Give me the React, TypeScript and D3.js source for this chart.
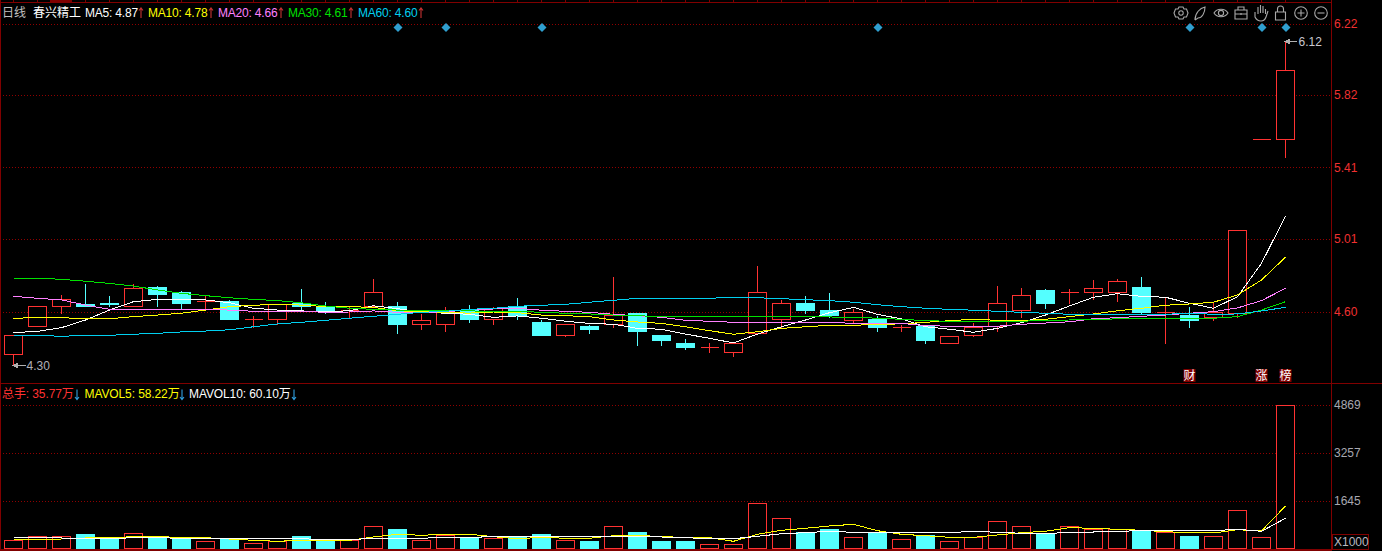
import React from 'react';
import * as d3 from 'd3';

// daily candles
const opens = [4.36, 4.52, 4.63, 4.64, 4.65, 4.63, 4.74, 4.71, 4.66, 4.66, 4.56, 4.56, 4.65, 4.63, 4.61, 4.63, 4.63, 4.53, 4.53, 4.61, 4.56, 4.63, 4.54, 4.47, 4.52, 4.53, 4.59, 4.47, 4.42, 4.40, 4.37, 4.48, 4.56, 4.65, 4.61, 4.55, 4.56, 4.51, 4.52, 4.42, 4.47, 4.52, 4.61, 4.72, 4.71, 4.71, 4.71, 4.74, 4.60, 4.58, 4.57, 4.59, 5.57, 5.57];
const closes = [4.47, 4.63, 4.67, 4.63, 4.64, 4.73, 4.70, 4.65, 4.66, 4.56, 4.56, 4.64, 4.63, 4.61, 4.61, 4.71, 4.53, 4.55, 4.61, 4.56, 4.62, 4.58, 4.47, 4.53, 4.50, 4.58, 4.49, 4.44, 4.40, 4.40, 4.42, 4.71, 4.65, 4.61, 4.58, 4.60, 4.51, 4.51, 4.44, 4.46, 4.51, 4.65, 4.69, 4.65, 4.71, 4.73, 4.77, 4.60, 4.60, 4.55, 4.60, 5.06, 5.57, 5.96];
const highs = [4.47, 4.63, 4.70, 4.76, 4.69, 4.76, 4.75, 4.72, 4.70, 4.67, 4.58, 4.64, 4.73, 4.66, 4.63, 4.79, 4.66, 4.59, 4.63, 4.64, 4.63, 4.68, 4.56, 4.53, 4.53, 4.80, 4.60, 4.47, 4.45, 4.43, 4.42, 4.86, 4.67, 4.69, 4.71, 4.62, 4.58, 4.53, 4.53, 4.46, 4.54, 4.75, 4.74, 4.73, 4.73, 4.78, 4.79, 4.80, 4.68, 4.63, 4.66, 5.06, 5.57, 6.12];
const lows = [4.30, 4.52, 4.59, 4.63, 4.63, 4.63, 4.63, 4.62, 4.61, 4.56, 4.51, 4.53, 4.61, 4.59, 4.57, 4.63, 4.48, 4.50, 4.49, 4.54, 4.53, 4.56, 4.47, 4.46, 4.48, 4.51, 4.41, 4.41, 4.39, 4.37, 4.35, 4.48, 4.51, 4.59, 4.57, 4.54, 4.49, 4.49, 4.42, 4.42, 4.46, 4.49, 4.57, 4.62, 4.65, 4.67, 4.66, 4.59, 4.42, 4.51, 4.55, 4.57, 5.57, 5.47];
const dayCount = opens.length;

const ma5 = [4.484, 4.491, 4.512, 4.555, 4.611, 4.658, 4.671, 4.671, 4.668, 4.652, 4.621, 4.611, 4.606, 4.602, 4.607, 4.635, 4.619, 4.600, 4.593, 4.587, 4.570, 4.578, 4.565, 4.548, 4.536, 4.531, 4.508, 4.503, 4.476, 4.452, 4.426, 4.476, 4.517, 4.555, 4.596, 4.626, 4.587, 4.561, 4.517, 4.503, 4.486, 4.508, 4.540, 4.583, 4.634, 4.683, 4.703, 4.688, 4.683, 4.649, 4.621, 4.686, 4.874, 5.140];
const ma10 = [4.565, 4.568, 4.568, 4.562, 4.562, 4.574, 4.583, 4.593, 4.611, 4.630, 4.638, 4.643, 4.639, 4.630, 4.630, 4.626, 4.607, 4.602, 4.596, 4.594, 4.600, 4.596, 4.583, 4.579, 4.574, 4.555, 4.544, 4.536, 4.517, 4.495, 4.475, 4.489, 4.508, 4.517, 4.525, 4.525, 4.531, 4.533, 4.542, 4.551, 4.559, 4.553, 4.551, 4.559, 4.574, 4.589, 4.607, 4.621, 4.638, 4.645, 4.655, 4.696, 4.780, 4.908];
const ma20 = [4.688, 4.677, 4.668, 4.639, 4.615, 4.615, 4.615, 4.615, 4.613, 4.611, 4.604, 4.604, 4.604, 4.598, 4.600, 4.606, 4.598, 4.596, 4.602, 4.611, 4.617, 4.621, 4.610, 4.604, 4.598, 4.587, 4.579, 4.570, 4.553, 4.548, 4.542, 4.542, 4.542, 4.542, 4.542, 4.536, 4.536, 4.536, 4.523, 4.520, 4.517, 4.520, 4.531, 4.538, 4.545, 4.562, 4.568, 4.576, 4.583, 4.593, 4.602, 4.623, 4.664, 4.733];
const ma30 = [4.790, 4.790, 4.784, 4.773, 4.761, 4.746, 4.724, 4.705, 4.692, 4.680, 4.671, 4.664, 4.652, 4.634, 4.621, 4.615, 4.611, 4.607, 4.606, 4.606, 4.604, 4.604, 4.598, 4.593, 4.589, 4.583, 4.579, 4.574, 4.574, 4.576, 4.576, 4.576, 4.576, 4.576, 4.572, 4.570, 4.565, 4.559, 4.551, 4.548, 4.548, 4.548, 4.548, 4.553, 4.555, 4.559, 4.561, 4.565, 4.565, 4.565, 4.565, 4.574, 4.611, 4.658];
const ma60 = [4.469, 4.469, 4.463, 4.469, 4.469, 4.475, 4.480, 4.488, 4.493, 4.500, 4.517, 4.533, 4.542, 4.553, 4.565, 4.576, 4.587, 4.598, 4.604, 4.615, 4.621, 4.632, 4.638, 4.643, 4.655, 4.666, 4.677, 4.677, 4.677, 4.677, 4.683, 4.680, 4.675, 4.669, 4.664, 4.655, 4.641, 4.630, 4.621, 4.615, 4.610, 4.604, 4.598, 4.593, 4.587, 4.587, 4.587, 4.587, 4.587, 4.593, 4.587, 4.589, 4.606, 4.626];

// volume in thousands of lots
const volumes = [326, 460, 460, 537, 336, 561, 470, 336, 292, 336, 225, 292, 470, 336, 326, 796, 705, 326, 494, 379, 393, 437, 537, 326, 269, 796, 571, 302, 269, 191, 191, 1568, 1065, 571, 672, 426, 594, 359, 494, 292, 426, 964, 796, 561, 796, 695, 695, 628, 594, 437, 460, 1333, 426, 4869];
const mavol5 = [359, 359, 369, 403, 413, 447, 447, 426, 413, 369, 326, 292, 326, 326, 326, 437, 527, 494, 527, 527, 447, 379, 426, 393, 393, 480, 494, 447, 426, 413, 292, 527, 662, 729, 806, 863, 648, 527, 480, 426, 426, 504, 581, 628, 749, 729, 695, 662, 615, 581, 571, 682, 638, 1478];
const mavol10 = [426, 426, 403, 379, 379, 413, 413, 393, 393, 393, 379, 379, 379, 346, 346, 393, 393, 393, 426, 426, 447, 447, 447, 447, 460, 460, 460, 437, 413, 379, 379, 460, 547, 581, 628, 594, 594, 594, 594, 581, 628, 594, 561, 561, 581, 604, 628, 648, 648, 648, 648, 695, 628, 1065];

const priceTicks = ['6.22', '5.82', '5.41', '5.01', '4.60'];
const volumeTicks = ['4869', '3257', '1645'];
const diamondDays = [16, 18, 22, 36, 49, 52, 53];
const eventDays = [49, 52, 53];
const eventLabels = ['财', '涨', '榜'];

const maNames = ['MA5', 'MA10', 'MA20', 'MA30', 'MA60'];
const maLabels = ['4.87', '4.78', '4.66', '4.61', '4.60'];
const maSeries = [ma5, ma10, ma20, ma30, ma60];
const maColors = ['#ffffff', '#ffff00', '#ff80ff', '#00e000', '#00d0f0'];
const maLegendX = [85, 148, 218, 288, 358];
const maArrowX = [141, 211, 281, 351, 421];

const RED = '#ff3232';
const CYAN = '#54ffff';
const FRAME = '#800000';
const FONT = '"Liberation Sans", "Noto Sans CJK SC", sans-serif';

const days = d3.range(dayCount);
const x = d3.scaleBand<number>().domain(days).range([1.5, 1297.5]).paddingInner(0.25).paddingOuter(0.125);
const cx = (i: number) => (x(i) as number) + x.bandwidth() / 2;
const priceY = d3.scaleLinear().domain([4.6, 6.22]).range([312, 24]);
const volY = d3.scaleLinear().domain([0, 4869]).range([550, 405]);
const snap = (v: number) => Math.round(v - 0.5) + 0.5;

const priceLine = d3.line<number>().x((_, i) => cx(i)).y(d => priceY(d));
const volLine = d3.line<number>().x((_, i) => cx(i)).y(d => volY(d));
const diamond = d3.symbol().type(d3.symbolSquare).size(41)();

const Grid = ({ y }: { y: number }) => (
  <line x1={3} x2={1331} y1={snap(y)} y2={snap(y)} stroke="#900000" strokeDasharray="1 2" shapeRendering="crispEdges" />
);

const Candle = ({ i }: { i: number }) => {
  const c = cx(i);
  const up = closes[i] >= opens[i];
  const top = snap(priceY(Math.max(opens[i], closes[i])));
  const bottom = snap(priceY(Math.min(opens[i], closes[i])));
  const color = up ? RED : CYAN;
  const left = x(i) as number;
  return (
    <g shapeRendering="crispEdges">
      <line x1={c} x2={c} y1={snap(priceY(highs[i]))} y2={top} stroke={color} />
      <line x1={c} x2={c} y1={bottom} y2={snap(priceY(lows[i]))} stroke={color} />
      {top === bottom ? (
        <line x1={left} x2={left + x.bandwidth()} y1={top} y2={top} stroke={color} />
      ) : (
        <rect x={left} y={top} width={x.bandwidth()} height={bottom - top}
          fill={up ? '#000' : CYAN} stroke={color} />
      )}
    </g>
  );
};

const VolumeBar = ({ i }: { i: number }) => {
  const up = closes[i] >= opens[i];
  const top = snap(volY(volumes[i]));
  const color = up ? RED : CYAN;
  return (
    <rect x={x(i) as number} y={top} width={x.bandwidth()} height={548.5 - top}
      fill={up ? '#000' : CYAN} stroke={color} shapeRendering="crispEdges" />
  );
};

// small trend arrow next to a legend value
const Arrow = ({ x: ax, y, up, color }: { x: number; y: number; up: boolean; color: string }) => (
  <path
    d={up ? `M${ax} ${y + 5}V${y - 5}M${ax - 2} ${y - 2.500}L${ax} ${y - 5}L${ax + 2} ${y - 2.500}`
      : `M${ax} ${y - 5}V${y + 5}M${ax - 2} ${y + 2.500}L${ax} ${y + 5}L${ax + 2} ${y + 2.500}`}
    fill="none" stroke={color} strokeWidth={1.1} />
);

// toolbar glyphs in the top right corner
const Toolbar = () => (
  <g fill="none" stroke="#a8a8a8" strokeWidth={1.1}>
    <g transform="translate(1181,13)">
      <path d="M-2-6h4l1 2 2.500 0 1.500 4-1.500 4h-2.500l-1 2h-4l-1-2h-2.500l-1.500-4 1.500-4h2.500z" />
      <circle r={2.2} />
    </g>
    <path d="M1195 20c0-7 5-12 10-13 0 6-3 11-7 11l-3 2" />
    <g transform="translate(1221,13)">
      <path d="M-7 0c3-5 11-5 14 0-3 5-11 5-14 0z" />
      <circle r={2.6} />
    </g>
    <path d="M1235 10h12v9h-12zM1238 10v-3h6v3M1235 14h12M1241 13v2" />
    <path d="M1255 12v5c1 2 3 4 6 4s4-1 5-4l2-6M1258 14v-7M1260.500 13v-8M1263 13v-7M1265.500 14v-5" />
    <path d="M1275.500 12h10v8h-10zM1277.500 12v-3c0-4 6-4 6 0v3" />
    <g transform="translate(1301,13)">
      <circle r={6.300} />
      <path d="M-3.500 0h7M0-3.500v7" />
    </g>
    <g transform="translate(1321,13)">
      <circle r={6.300} />
      <path d="M-3.500 0h7" />
    </g>
  </g>
);

const App: React.FC = () => {
  const hiDay = highs.indexOf(d3.max(highs) as number);
  const loDay = lows.indexOf(d3.min(lows) as number);
  const hiY = snap(priceY(highs[hiDay]));
  const loY = snap(priceY(lows[loDay]));

  return (
    <svg width={1382} height={551} fontFamily={FONT} fontSize={12}
      style={{ position: 'fixed', left: 0, top: 0, display: 'block', background: '#000' }}>
      <rect width={1382} height={551} fill="#000" />

      {priceTicks.map(t => <Grid key={t} y={priceY(+t)} />)}
      {volumeTicks.map(t => <Grid key={t} y={volY(+t)} />)}

      {days.map(i => <Candle key={i} i={i} />)}
      <g fill="none" strokeWidth={1} shapeRendering="crispEdges">
        {maSeries.map((s, k) => <path key={maNames[k]} d={priceLine(s) as string} stroke={maColors[k]} />)}
      </g>

      {days.map(i => <VolumeBar key={i} i={i} />)}
      <g fill="none" shapeRendering="crispEdges">
        <path d={volLine(mavol5) as string} stroke="#ffff00" />
        <path d={volLine(mavol10) as string} stroke="#ffffff" />
      </g>

      {/* frame */}
      <g stroke={FRAME} shapeRendering="crispEdges">
        <line x1={0.5} x2={0.5} y1={0} y2={551} />
        <line x1={0} x2={1331} y1={2.5} y2={2.5} />
        <line x1={50} x2={72} y1={1} y2={1} strokeWidth={2} />
        {days.map(i => <line key={i} x1={cx(i)} x2={cx(i)} y1={0} y2={2} />)}
        <line x1={1331.5} x2={1331.5} y1={0} y2={551} />
        <line x1={0} x2={1382} y1={383.5} y2={383.5} />
        <line x1={0} x2={1331} y1={550} y2={550} strokeWidth={2} />
      </g>

      {/* price axis */}
      {priceTicks.map(t => (
        <text key={t} x={1334} y={priceY(+t) + 4} fill="#f03030">{t}</text>
      ))}
      {volumeTicks.map(t => (
        <text key={t} x={1334} y={volY(+t) + 4} fill="#a8a8b0">{t}</text>
      ))}
      <rect x={1332.5} y={534.5} width={36} height={15} fill="none" stroke={FRAME} shapeRendering="crispEdges" />
      <text x={1334} y={546} fill="#b8b8c0">X1000</text>

      {/* event markers */}
      {diamondDays.map(d => (
        <path key={d} d={diamond as string} fill="#2f9fd0"
          transform={`translate(${cx(d) + 0.5},27.5) rotate(45)`} />
      ))}
      {eventDays.map((d, k) => (
        <g key={d}>
          <rect x={cx(d) - 6} y={369} width={12} height={13} fill="#800000" />
          <text x={cx(d)} y={380} textAnchor="middle" fill="#fff">{eventLabels[k]}</text>
        </g>
      ))}

      {/* high / low notes */}
      <g stroke="#b0b0b0" fill="#b0b0b0" shapeRendering="crispEdges">
        <line x1={cx(loDay)} x2={cx(loDay) + 12} y1={loY} y2={loY} />
        <path d={`M${cx(loDay)} ${loY}l4-2v4z`} />
        <line x1={cx(hiDay)} x2={cx(hiDay) + 11} y1={hiY} y2={hiY} />
        <path d={`M${cx(hiDay)} ${hiY}l4-2v4z`} />
      </g>
      <text x={cx(loDay) + 13} y={loY + 4} fill="#b0b0b8">{lows[loDay].toFixed(2)}</text>
      <text x={cx(hiDay) + 13} y={hiY + 4} fill="#c8c8d0">{highs[hiDay].toFixed(2)}</text>

      {/* legends */}
      <text x={2} y={17} fill="#c0c0c0">日线</text>
      <text x={33} y={17} fill="#ffffff">春兴精工</text>
      {maNames.map((name, k) => (
        <g key={name}>
          <text x={maLegendX[k]} y={17} letterSpacing={-0.2} fill={maColors[k]}>{`${name}: ${maLabels[k]}`}</text>
          <Arrow x={maArrowX[k]} y={13} up color="#c83232" />
        </g>
      ))}
      <text x={2} y={398} letterSpacing={-0.1} fill={RED}>总手: 35.77万</text>
      <Arrow x={77} y={394.5} up={false} color="#30a0e0" />
      <text x={84.5} y={398} letterSpacing={-0.1} fill="#ffff00">MAVOL5: 58.22万</text>
      <Arrow x={182} y={394.5} up={false} color="#30a0e0" />
      <text x={189} y={398} letterSpacing={-0.1} fill="#ffffff">MAVOL10: 60.10万</text>
      <Arrow x={294} y={394.5} up={false} color="#30a0e0" />

      <Toolbar />
    </svg>
  );
};

export default App;
